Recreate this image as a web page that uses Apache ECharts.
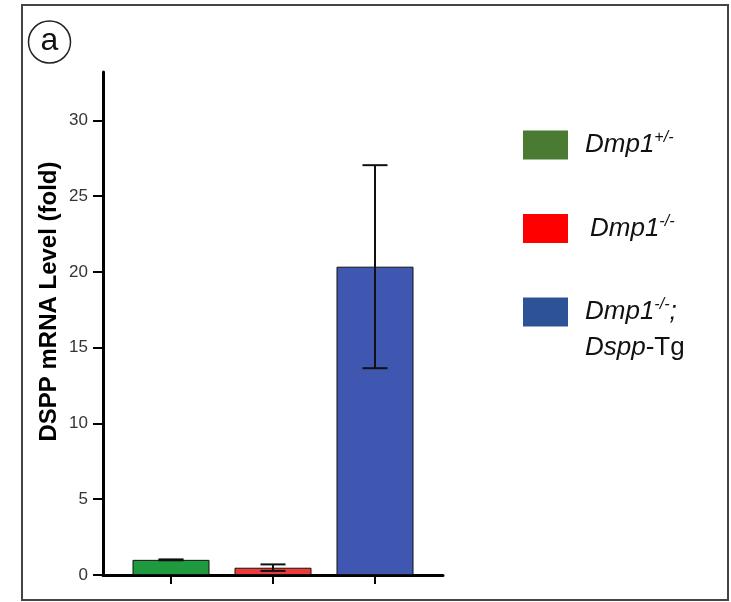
<!DOCTYPE html>
<html>
<head>
<meta charset="utf-8">
<script src="https://cdn.jsdelivr.net/npm/echarts@6/dist/echarts.min.js"></script>
<style>html,body{margin:0;padding:0;background:#fff;}#chart{width:731px;height:602px;}</style>
</head>
<body>
<div id="chart"></div>
<script>
// Data
var categories = ['Dmp1+/-', 'Dmp1-/-', 'Dmp1-/-;Dspp-Tg'];
var means = [1.0, 0.48, 20.35];
var errLow = [0.97, 0.27, 13.65];
var errHigh = [1.03, 0.70, 27.05];
var yTicks = [0, 5, 10, 15, 20, 25, 30];
var barColors = ['#1f9a3f', '#ef3a3a', '#3f57b0'];
var legendColors = ['#4b7b32', '#ff0000', '#2d5396'];
var legendLabels = [
  '{i|Dmp1}{sup|+/-}',
  '{i|Dmp1}{sup|-/-}',
  '{i|Dmp1}{sup|-/-}{i|;}\n{i|Dspp}{n|-Tg}'
];

var chart = echarts.init(document.getElementById('chart'));
var font = 'Liberation Sans, Arial, sans-serif';

var series = categories.map(function (c, i) {
  return {
    name: c,
    type: 'bar',
    barWidth: 77,
    barGap: '-100%',
    data: [[i, means[i]]],
    itemStyle: { color: barColors[i], borderColor: '#111', borderWidth: 1 },
    z: 2
  };
});

series.push({
  type: 'custom',
  name: 'err',
  data: categories.map(function (c, i) { return [i, errLow[i], errHigh[i]]; }),
  renderItem: function (params, api) {
    var x = api.value(0);
    var lo = api.coord([x, api.value(1)]);
    var hi = api.coord([x, api.value(2)]);
    var hw = 12.5;
    var style = { stroke: '#111', lineWidth: 2 };
    return {
      type: 'group',
      children: [
        { type: 'line', shape: { x1: lo[0], y1: lo[1], x2: hi[0], y2: hi[1] }, style: style },
        { type: 'line', shape: { x1: hi[0] - hw, y1: hi[1], x2: hi[0] + hw, y2: hi[1] }, style: style },
        { type: 'line', shape: { x1: lo[0] - hw, y1: lo[1], x2: lo[0] + hw, y2: lo[1] }, style: style }
      ]
    };
  },
  z: 5
});

var richBase = {
  i: { fontStyle: 'italic', fontSize: 26, fontFamily: font, color: '#111', lineHeight: 36 },
  n: { fontStyle: 'normal', fontSize: 26, fontFamily: font, color: '#111', lineHeight: 36 },
  sup: { fontStyle: 'italic', fontSize: 16, fontFamily: font, color: '#111', verticalAlign: 'top', lineHeight: 36, padding: [3, 0, 0, 0] }
};

chart.setOption({
  animation: false,
  backgroundColor: '#fff',
  grid: { left: 103, top: 72, right: 288, bottom: 27 },
  xAxis: {
    type: 'value',
    min: -2 / 3,
    max: 8 / 3,
    splitLine: { show: false },
    axisLine: { show: true, onZero: false, lineStyle: { color: '#000', width: 3 } },
    axisTick: { show: true, customValues: [0, 1, 2], length: 9, lineStyle: { color: '#000', width: 2 } },
    axisLabel: { show: false }
  },
  yAxis: {
    type: 'value',
    min: 0,
    max: 33.2,
    interval: 5,
    name: 'DSPP mRNA Level (fold)',
    nameLocation: 'middle',
    nameGap: 42,
    nameTextStyle: { fontFamily: font, fontWeight: 'bold', fontSize: 24, color: '#000', padding: [0, 0, 0, 44] },
    splitLine: { show: false },
    axisLine: { show: true, onZero: false, lineStyle: { color: '#000', width: 3 } },
    axisTick: { show: true, length: 10, lineStyle: { color: '#000', width: 2 }, customValues: yTicks },
    axisLabel: { fontFamily: font, fontSize: 17, color: '#333', margin: 15, customValues: yTicks }
  },
  legend: {
    orient: 'vertical',
    left: 523,
    top: 127,
    padding: 0,
    itemWidth: 45,
    itemHeight: 29,
    itemGap: 51,
    icon: 'rect',
    selectedMode: false,
    data: categories.map(function (c, i) {
      var pad = i === 1 ? [0, 0, 0, 17] : [0, 0, 0, 12];
      if (i === 2) pad = [36, 0, 0, 12];
      return {
        name: c,
        itemStyle: { color: legendColors[i], borderWidth: 0 },
        textStyle: { padding: pad, rich: richBase }
      };
    }),
    formatter: function (name) { return legendLabels[categories.indexOf(name)]; },
    textStyle: { rich: richBase }
  },
  graphic: [
    { type: 'rect', shape: { x: 22, y: 5, width: 706, height: 595 }, style: { fill: 'none', stroke: '#444', lineWidth: 2 }, silent: true },
    { type: 'circle', shape: { cx: 49.5, cy: 42, r: 21 }, style: { fill: 'none', stroke: '#222', lineWidth: 1.5 }, silent: true },
    { type: 'text', x: 49.5, y: 41, style: { text: 'a', fontFamily: font, fontSize: 32, fill: '#111', align: 'center', verticalAlign: 'middle' }, silent: true }
  ],
  series: series
});
</script>
</body>
</html>
